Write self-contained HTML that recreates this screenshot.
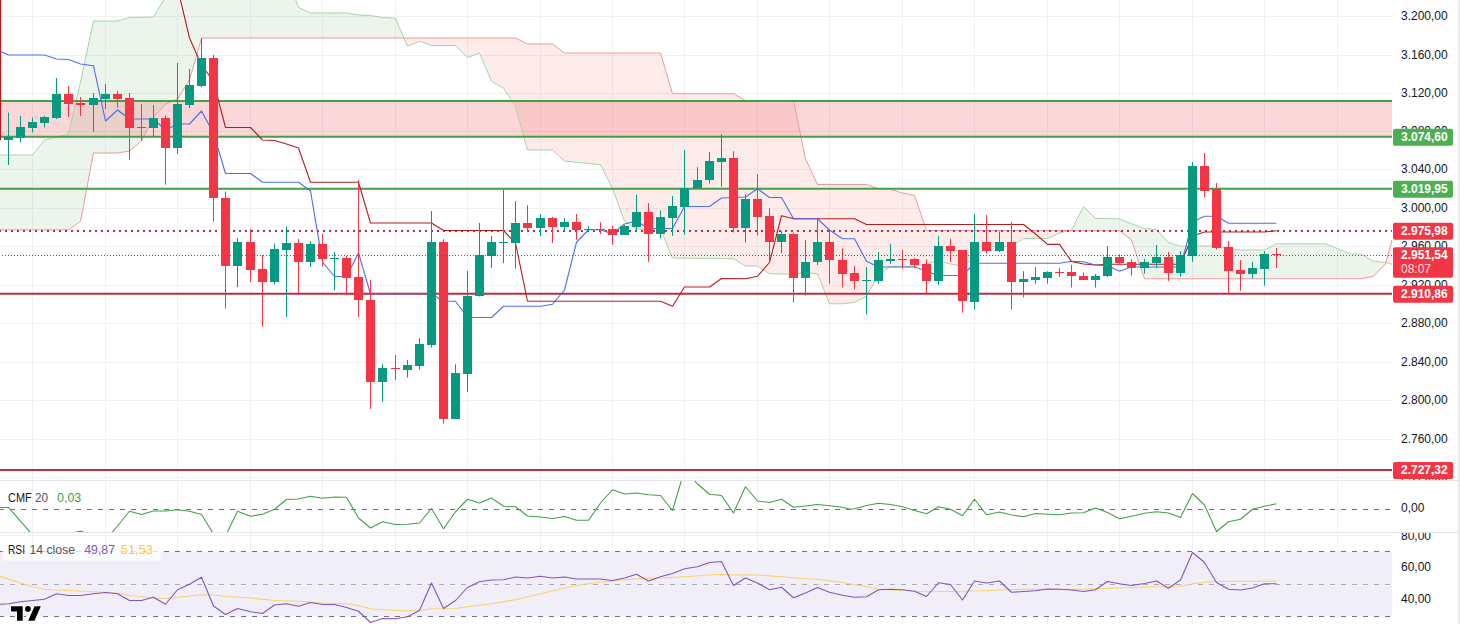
<!DOCTYPE html>
<html><head><meta charset="utf-8"><title>Chart</title>
<style>
html,body{margin:0;padding:0;background:#fff;}
body{width:1460px;height:624px;overflow:hidden;font-family:"Liberation Sans",sans-serif;}
svg{display:block;}
svg text{font-family:"Liberation Sans",sans-serif;}
</style></head><body>
<svg width="1460" height="624" viewBox="0 0 1460 624">
<defs>
<clipPath id="main"><rect x="0" y="0" width="1392" height="480"/></clipPath>
<clipPath id="cmf"><rect x="0" y="481" width="1392" height="51"/></clipPath>
<clipPath id="rsi"><rect x="0" y="533" width="1392" height="91"/></clipPath>
<clipPath id="axmain"><rect x="1392" y="0" width="68" height="480"/></clipPath>
<clipPath id="axrsi"><rect x="1392" y="533" width="68" height="91"/></clipPath>
</defs>
<rect x="0" y="0" width="1460" height="624" fill="#fff"/>
<rect x="0" y="552" width="1392" height="64.5" fill="rgba(126,87,194,0.10)"/>
<line x1="0" y1="16.5" x2="1392" y2="16.5" stroke="#f1f1f5" stroke-width="1"/>
<line x1="0" y1="55.5" x2="1392" y2="55.5" stroke="#f1f1f5" stroke-width="1"/>
<line x1="0" y1="93.5" x2="1392" y2="93.5" stroke="#f1f1f5" stroke-width="1"/>
<line x1="0" y1="131.5" x2="1392" y2="131.5" stroke="#f1f1f5" stroke-width="1"/>
<line x1="0" y1="169.5" x2="1392" y2="169.5" stroke="#f1f1f5" stroke-width="1"/>
<line x1="0" y1="208.5" x2="1392" y2="208.5" stroke="#f1f1f5" stroke-width="1"/>
<line x1="0" y1="246.5" x2="1392" y2="246.5" stroke="#f1f1f5" stroke-width="1"/>
<line x1="0" y1="285.5" x2="1392" y2="285.5" stroke="#f1f1f5" stroke-width="1"/>
<line x1="0" y1="323.5" x2="1392" y2="323.5" stroke="#f1f1f5" stroke-width="1"/>
<line x1="0" y1="362.5" x2="1392" y2="362.5" stroke="#f1f1f5" stroke-width="1"/>
<line x1="0" y1="400.5" x2="1392" y2="400.5" stroke="#f1f1f5" stroke-width="1"/>
<line x1="0" y1="439.5" x2="1392" y2="439.5" stroke="#f1f1f5" stroke-width="1"/>
<line x1="0" y1="477.5" x2="1392" y2="477.5" stroke="#f1f1f5" stroke-width="1"/>
<line x1="0" y1="535.5" x2="1392" y2="535.5" stroke="#f1f1f5" stroke-width="1"/>
<line x1="0" y1="568.5" x2="1392" y2="568.5" stroke="#f1f1f5" stroke-width="1"/>
<line x1="0" y1="600.5" x2="1392" y2="600.5" stroke="#f1f1f5" stroke-width="1"/>
<line x1="32.5" y1="0" x2="32.5" y2="624" stroke="#f1f1f5" stroke-width="1"/>
<line x1="105.5" y1="0" x2="105.5" y2="624" stroke="#f1f1f5" stroke-width="1"/>
<line x1="177.5" y1="0" x2="177.5" y2="624" stroke="#f1f1f5" stroke-width="1"/>
<line x1="250.5" y1="0" x2="250.5" y2="624" stroke="#f1f1f5" stroke-width="1"/>
<line x1="322.5" y1="0" x2="322.5" y2="624" stroke="#f1f1f5" stroke-width="1"/>
<line x1="395.5" y1="0" x2="395.5" y2="624" stroke="#f1f1f5" stroke-width="1"/>
<line x1="467.5" y1="0" x2="467.5" y2="624" stroke="#f1f1f5" stroke-width="1"/>
<line x1="540.5" y1="0" x2="540.5" y2="624" stroke="#f1f1f5" stroke-width="1"/>
<line x1="612.5" y1="0" x2="612.5" y2="624" stroke="#f1f1f5" stroke-width="1"/>
<line x1="684.5" y1="0" x2="684.5" y2="624" stroke="#f1f1f5" stroke-width="1"/>
<line x1="757.5" y1="0" x2="757.5" y2="624" stroke="#f1f1f5" stroke-width="1"/>
<line x1="829.5" y1="0" x2="829.5" y2="624" stroke="#f1f1f5" stroke-width="1"/>
<line x1="902.5" y1="0" x2="902.5" y2="624" stroke="#f1f1f5" stroke-width="1"/>
<line x1="974.5" y1="0" x2="974.5" y2="624" stroke="#f1f1f5" stroke-width="1"/>
<line x1="1047.5" y1="0" x2="1047.5" y2="624" stroke="#f1f1f5" stroke-width="1"/>
<line x1="1119.5" y1="0" x2="1119.5" y2="624" stroke="#f1f1f5" stroke-width="1"/>
<line x1="1192.5" y1="0" x2="1192.5" y2="624" stroke="#f1f1f5" stroke-width="1"/>
<line x1="1264.5" y1="0" x2="1264.5" y2="624" stroke="#f1f1f5" stroke-width="1"/>
<line x1="1337.5" y1="0" x2="1337.5" y2="624" stroke="#f1f1f5" stroke-width="1"/>
<line x1="0" y1="480.5" x2="1460" y2="480.5" stroke="#e4e5ea" stroke-width="1"/>
<line x1="0" y1="532.5" x2="1460" y2="532.5" stroke="#e4e5ea" stroke-width="1"/>
<rect x="1458" y="0" width="2" height="624" fill="#e9e9e9"/>
<g clip-path="url(#main)">
<rect x="0" y="101" width="1392" height="36" fill="rgba(242,54,69,0.20)"/>
<polygon points="-1.00,155.00 32.50,155.00 44.50,140.00 68.50,134.00 80.50,82.00 93.50,21.00 117.50,21.00 129.50,17.50 141.50,17.25 153.50,17.00 165.50,-3.00 177.50,-10.00 189.50,-10.00 201.50,-10.00 286.50,-10.00 295.00,-2.00 298.50,7.50 310.50,13.00 346.50,13.00 358.50,15.00 370.50,15.50 382.50,17.50 395.50,18.25 403.96,38.00 403.96,38.00 395.50,38.00 382.50,38.00 370.50,38.00 358.50,38.00 346.50,38.00 310.50,38.00 298.50,38.00 295.00,38.00 286.50,38.00 201.50,38.00 189.50,80.00 177.50,99.00 165.50,104.00 153.50,117.50 141.50,141.00 129.50,151.00 117.50,153.00 93.50,153.00 80.50,221.50 68.50,229.75 44.50,229.75 32.50,229.75 -1.00,229.75" fill="rgba(67,160,71,0.10)"/>
<polygon points="403.96,38.00 407.50,46.25 419.50,41.25 431.50,45.50 455.50,45.50 467.50,57.50 479.50,53.00 491.50,81.25 503.50,88.00 515.50,106.25 527.50,150.00 552.50,150.00 564.50,161.00 600.50,164.75 612.50,188.50 624.50,221.00 636.50,229.00 660.50,229.00 672.50,258.00 733.50,258.75 745.50,266.00 757.50,266.00 769.50,273.75 793.50,274.25 805.50,272.50 817.50,273.75 829.50,303.75 842.50,303.75 854.50,302.50 866.50,296.25 878.50,275.00 890.50,266.50 902.50,266.50 914.50,266.50 926.50,264.00 938.50,261.00 950.50,264.00 962.50,266.00 974.50,258.00 986.50,247.00 1011.50,246.50 1023.50,238.50 1047.50,238.50 1059.50,233.00 1068.76,230.68 1068.76,230.68 1059.50,230.67 1047.50,230.66 1023.50,230.63 1011.50,230.61 986.50,230.58 974.50,230.56 962.50,230.55 950.50,230.53 938.50,230.52 926.50,230.50 914.50,195.50 902.50,193.00 890.50,189.25 878.50,188.75 866.50,184.50 854.50,184.50 842.50,184.50 829.50,184.50 817.50,184.50 805.50,158.75 793.50,100.50 769.50,100.50 757.50,100.50 745.50,100.50 733.50,93.75 672.50,93.75 660.50,53.00 636.50,53.00 624.50,53.00 612.50,53.00 600.50,53.00 564.50,53.00 552.50,44.00 527.50,44.00 515.50,38.00 503.50,38.00 491.50,38.00 479.50,38.00 467.50,38.00 455.50,38.00 431.50,38.00 419.50,38.00 407.50,38.00 403.96,38.00" fill="rgba(244,67,54,0.10)"/>
<polygon points="1068.76,230.68 1071.50,230.00 1083.50,206.75 1095.50,218.50 1119.50,218.75 1131.50,223.75 1144.50,228.75 1156.50,229.50 1168.50,242.50 1180.50,246.25 1216.50,245.75 1228.50,248.75 1240.50,250.00 1264.50,250.00 1276.50,243.75 1325.50,243.75 1337.50,248.75 1349.50,253.75 1361.50,254.25 1373.50,261.25 1385.50,262.50 1385.82,262.59 1385.82,262.59 1385.50,263.75 1373.50,276.25 1361.50,278.75 1349.50,278.75 1337.50,278.75 1325.50,278.75 1276.50,278.75 1264.50,278.75 1240.50,278.75 1228.50,278.75 1216.50,278.75 1180.50,278.75 1168.50,278.75 1156.50,278.75 1144.50,278.75 1131.50,240.00 1119.50,230.75 1095.50,230.72 1083.50,230.70 1071.50,230.69 1068.76,230.68" fill="rgba(67,160,71,0.10)"/>
<polygon points="1385.82,262.59 1392.00,264.25 1392.00,240.00 1385.82,262.59" fill="rgba(244,67,54,0.10)"/>

<polyline points="-1.00,155.00 32.50,155.00 44.50,140.00 68.50,134.00 80.50,82.00 93.50,21.00 117.50,21.00 129.50,17.50 153.50,17.00 165.50,-3.00 177.50,-10.00 286.50,-10.00 295.00,-2.00 298.50,7.50 310.50,13.00 346.50,13.00 358.50,15.00 370.50,15.50 382.50,17.50 395.50,18.25 407.50,46.25 419.50,41.25 431.50,45.50 455.50,45.50 467.50,57.50 479.50,53.00 491.50,81.25 503.50,88.00 515.50,106.25 527.50,150.00 552.50,150.00 564.50,161.00 600.50,164.75 612.50,188.50 624.50,221.00 636.50,229.00 660.50,229.00 672.50,258.00 733.50,258.75 745.50,266.00 757.50,266.00 769.50,273.75 793.50,274.25 805.50,272.50 817.50,273.75 829.50,303.75 842.50,303.75 854.50,302.50 866.50,296.25 878.50,275.00 890.50,266.50 914.50,266.50 926.50,264.00 938.50,261.00 950.50,264.00 962.50,266.00 974.50,258.00 986.50,247.00 1011.50,246.50 1023.50,238.50 1047.50,238.50 1059.50,233.00 1071.50,230.00 1083.50,206.75 1095.50,218.50 1119.50,218.75 1131.50,223.75 1144.50,228.75 1156.50,229.50 1168.50,242.50 1180.50,246.25 1216.50,245.75 1228.50,248.75 1240.50,250.00 1264.50,250.00 1276.50,243.75 1325.50,243.75 1337.50,248.75 1349.50,253.75 1361.50,254.25 1373.50,261.25 1385.50,262.50 1392.00,264.25" fill="none" stroke="#a5d6a7" stroke-width="1"/>
<polyline points="-1.00,229.75 68.50,229.75 80.50,221.50 93.50,153.00 117.50,153.00 129.50,151.00 141.50,141.00 153.50,117.50 165.50,104.00 177.50,99.00 189.50,80.00 201.50,38.00 515.50,38.00 527.50,44.00 552.50,44.00 564.50,53.00 660.50,53.00 672.50,93.75 733.50,93.75 745.50,100.50 793.50,100.50 805.50,158.75 817.50,184.50 866.50,184.50 878.50,188.75 890.50,189.25 902.50,193.00 914.50,195.50 926.50,230.50 1119.50,230.75 1131.50,240.00 1144.50,278.75 1361.50,278.75 1373.50,276.25 1385.50,263.75 1392.00,240.00" fill="none" stroke="#ef9a9a" stroke-width="1"/>
<line x1="0" y1="101" x2="1392" y2="101" stroke="#43a047" stroke-width="2"/>
<line x1="0" y1="136.75" x2="1392" y2="136.75" stroke="#43a047" stroke-width="2"/>
<line x1="0" y1="188.75" x2="1392" y2="188.75" stroke="#43a047" stroke-width="2"/>
<line x1="0" y1="293.75" x2="1392" y2="293.75" stroke="#b82f43" stroke-width="2"/>
<line x1="0" y1="470" x2="1392" y2="470" stroke="#b82f43" stroke-width="2"/>
<line x1="-1" y1="231" x2="1392" y2="231" stroke="#b22e45" stroke-width="2" stroke-dasharray="2 4"/>
<line x1="0.5" y1="0" x2="0.5" y2="140" stroke="#b71c1c" stroke-width="1.2"/>
<polyline points="180.00,-2.00 189.50,38.00 201.50,65.00 213.50,81.50 225.50,127.50 250.50,127.50 262.50,140.00 274.50,140.50 286.50,144.00 298.50,148.00 310.50,182.25 358.50,182.25 370.50,223.00 431.50,223.00 443.50,230.50 503.50,230.50 515.50,243.00 527.50,301.25 660.50,301.25 672.50,306.25 684.50,287.00 709.50,287.00 721.50,278.50 745.50,278.75 757.50,276.25 769.50,262.50 781.50,215.75 793.50,218.75 854.50,218.75 866.50,224.50 1023.50,224.50 1035.50,234.00 1047.50,244.40 1059.50,244.40 1071.50,261.40 1083.50,264.00 1095.50,265.00 1107.50,264.25 1180.50,264.25 1192.50,236.00 1204.50,232.00 1264.50,232.00 1276.50,230.75" fill="none" stroke="#b71c1c" stroke-width="1.1" stroke-linejoin="round"/>
<polyline points="0.00,51.00 8.50,55.00 44.50,55.00 56.50,59.00 68.50,59.50 80.50,64.00 93.50,65.75 105.50,121.00 117.50,110.00 129.50,119.00 153.50,119.00 165.50,130.00 177.50,124.00 189.50,124.00 201.50,111.00 213.50,133.00 225.50,173.50 250.50,173.50 262.50,182.25 298.50,182.25 310.50,191.00 322.50,262.00 334.50,276.50 346.50,276.50 358.50,253.00 370.50,293.75 431.50,293.75 443.50,301.25 455.50,301.25 467.50,317.50 491.50,317.50 503.50,306.25 540.50,306.25 552.50,304.25 564.50,290.00 576.50,242.25 588.50,229.75 600.50,229.75 612.50,234.00 624.50,224.00 636.50,221.00 648.50,228.50 672.50,228.50 684.50,206.50 709.50,206.50 721.50,198.00 745.50,197.00 757.50,188.75 769.50,197.50 781.50,197.50 793.50,218.75 817.50,218.75 829.50,230.00 842.50,238.75 854.50,238.75 866.50,261.25 878.50,267.00 914.50,267.00 926.50,271.25 938.50,275.50 962.50,275.50 974.50,263.25 1059.50,263.25 1071.50,261.25 1083.50,261.75 1095.50,265.00 1107.50,265.75 1119.50,271.25 1131.50,267.00 1180.50,267.00 1192.50,222.00 1204.50,216.25 1216.50,216.25 1228.50,223.25 1276.50,223.25" fill="none" stroke="#3a64ee" stroke-opacity="0.9" stroke-width="1.15" stroke-linejoin="round"/>
<rect x="8.0" y="112.5" width="1" height="52.5" fill="#089981"/><rect x="4.0" y="137" width="9" height="3" fill="#089981"/>
<rect x="20.0" y="116.0" width="1" height="26.5" fill="#089981"/><rect x="16.0" y="127" width="9" height="11" fill="#089981"/>
<rect x="32.0" y="117.5" width="1" height="15.0" fill="#089981"/><rect x="28.0" y="122" width="9" height="6" fill="#089981"/>
<rect x="44.0" y="116.0" width="1" height="11.5" fill="#089981"/><rect x="40.0" y="117" width="9" height="6" fill="#089981"/>
<rect x="56.0" y="78.0" width="1" height="41.0" fill="#089981"/><rect x="52.0" y="94" width="9" height="24" fill="#089981"/>
<rect x="68.0" y="86.0" width="1" height="31.0" fill="#f23645"/><rect x="64.0" y="94" width="9" height="10" fill="#f23645"/>
<rect x="80.0" y="97.0" width="1" height="19.0" fill="#f23645"/><rect x="76.0" y="103" width="9" height="2" fill="#f23645"/>
<rect x="93.0" y="93.0" width="1" height="39.0" fill="#089981"/><rect x="89.0" y="98" width="9" height="7" fill="#089981"/>
<rect x="105.0" y="84.0" width="1" height="25.0" fill="#089981"/><rect x="101.0" y="94" width="9" height="5" fill="#089981"/>
<rect x="117.0" y="91.0" width="1" height="16.5" fill="#f23645"/><rect x="113.0" y="94" width="9" height="5" fill="#f23645"/>
<rect x="129.0" y="93.0" width="1" height="67.0" fill="#f23645"/><rect x="125.0" y="98" width="9" height="30" fill="#f23645"/>
<rect x="141.0" y="104.0" width="1" height="36.5" fill="#f23645"/><rect x="137.0" y="127" width="9" height="1" fill="#f23645"/>
<rect x="153.0" y="105.0" width="1" height="32.0" fill="#089981"/><rect x="149.0" y="118" width="9" height="10" fill="#089981"/>
<rect x="165.0" y="115.5" width="1" height="69.2" fill="#f23645"/><rect x="161.0" y="118" width="9" height="30" fill="#f23645"/>
<rect x="177.0" y="63.0" width="1" height="91.0" fill="#089981"/><rect x="173.0" y="104" width="9" height="44" fill="#089981"/>
<rect x="189.0" y="69.0" width="1" height="39.0" fill="#089981"/><rect x="185.0" y="85" width="9" height="20" fill="#089981"/>
<rect x="201.0" y="38.0" width="1" height="49.0" fill="#089981"/><rect x="197.0" y="58" width="9" height="28" fill="#089981"/>
<rect x="213.0" y="55.0" width="1" height="166.5" fill="#f23645"/><rect x="209.0" y="58" width="9" height="140" fill="#f23645"/>
<rect x="225.0" y="191.5" width="1" height="117.0" fill="#f23645"/><rect x="221.0" y="198" width="9" height="68" fill="#f23645"/>
<rect x="237.0" y="238.0" width="1" height="49.0" fill="#089981"/><rect x="233.0" y="242" width="9" height="24" fill="#089981"/>
<rect x="250.0" y="229.0" width="1" height="53.0" fill="#f23645"/><rect x="246.0" y="242" width="9" height="28" fill="#f23645"/>
<rect x="262.0" y="255.0" width="1" height="71.5" fill="#f23645"/><rect x="258.0" y="269" width="9" height="13" fill="#f23645"/>
<rect x="274.0" y="243.5" width="1" height="41.2" fill="#089981"/><rect x="270.0" y="249" width="9" height="33" fill="#089981"/>
<rect x="286.0" y="226.5" width="1" height="90.5" fill="#089981"/><rect x="282.0" y="243" width="9" height="7" fill="#089981"/>
<rect x="298.0" y="239.0" width="1" height="54.0" fill="#f23645"/><rect x="294.0" y="243" width="9" height="19" fill="#f23645"/>
<rect x="310.0" y="241.0" width="1" height="26.0" fill="#089981"/><rect x="306.0" y="244" width="9" height="18" fill="#089981"/>
<rect x="322.0" y="233.5" width="1" height="33.0" fill="#f23645"/><rect x="318.0" y="244" width="9" height="15" fill="#f23645"/>
<rect x="334.0" y="252.0" width="1" height="38.5" fill="#089981"/><rect x="330.0" y="258" width="9" height="1" fill="#089981"/>
<rect x="346.0" y="256.0" width="1" height="39.0" fill="#f23645"/><rect x="342.0" y="258" width="9" height="20" fill="#f23645"/>
<rect x="358.0" y="180.0" width="1" height="137.0" fill="#f23645"/><rect x="354.0" y="277" width="9" height="23" fill="#f23645"/>
<rect x="370.0" y="279.8" width="1" height="129.0" fill="#f23645"/><rect x="366.0" y="300" width="9" height="82" fill="#f23645"/>
<rect x="382.0" y="364.2" width="1" height="37.5" fill="#089981"/><rect x="378.0" y="368" width="9" height="14" fill="#089981"/>
<rect x="395.0" y="355.0" width="1" height="25.0" fill="#f23645"/><rect x="391.0" y="368" width="9" height="1" fill="#f23645"/>
<rect x="407.0" y="360.0" width="1" height="17.5" fill="#089981"/><rect x="403.0" y="365" width="9" height="5" fill="#089981"/>
<rect x="419.0" y="338.0" width="1" height="31.5" fill="#089981"/><rect x="415.0" y="344" width="9" height="22" fill="#089981"/>
<rect x="431.0" y="211.0" width="1" height="136.5" fill="#089981"/><rect x="427.0" y="242" width="9" height="103" fill="#089981"/>
<rect x="443.0" y="239.2" width="1" height="184.5" fill="#f23645"/><rect x="439.0" y="242" width="9" height="177" fill="#f23645"/>
<rect x="455.0" y="364.2" width="1" height="55.2" fill="#089981"/><rect x="451.0" y="373" width="9" height="46" fill="#089981"/>
<rect x="467.0" y="271.0" width="1" height="120.8" fill="#089981"/><rect x="463.0" y="296" width="9" height="78" fill="#089981"/>
<rect x="479.0" y="223.0" width="1" height="73.5" fill="#089981"/><rect x="475.0" y="255" width="9" height="41" fill="#089981"/>
<rect x="491.0" y="236.0" width="1" height="31.8" fill="#089981"/><rect x="487.0" y="242" width="9" height="14" fill="#089981"/>
<rect x="503.0" y="189.8" width="1" height="73.2" fill="#089981"/><rect x="499.0" y="242" width="9" height="1" fill="#089981"/>
<rect x="515.0" y="201.0" width="1" height="67.5" fill="#089981"/><rect x="511.0" y="223" width="9" height="20" fill="#089981"/>
<rect x="527.0" y="205.2" width="1" height="27.0" fill="#f23645"/><rect x="523.0" y="223" width="9" height="5" fill="#f23645"/>
<rect x="540.0" y="214.0" width="1" height="22.0" fill="#089981"/><rect x="536.0" y="218" width="9" height="10" fill="#089981"/>
<rect x="552.0" y="216.8" width="1" height="26.2" fill="#f23645"/><rect x="548.0" y="218" width="9" height="9" fill="#f23645"/>
<rect x="564.0" y="218.0" width="1" height="13.0" fill="#089981"/><rect x="560.0" y="222" width="9" height="5" fill="#089981"/>
<rect x="576.0" y="214.0" width="1" height="25.8" fill="#f23645"/><rect x="572.0" y="222" width="9" height="8" fill="#f23645"/>
<rect x="588.0" y="226.2" width="1" height="6.0" fill="#089981"/><rect x="584.0" y="229" width="9" height="1" fill="#089981"/>
<rect x="600.0" y="222.2" width="1" height="11.8" fill="#f23645"/><rect x="596.0" y="229" width="9" height="1" fill="#f23645"/>
<rect x="612.0" y="226.0" width="1" height="18.8" fill="#f23645"/><rect x="608.0" y="229" width="9" height="6" fill="#f23645"/>
<rect x="624.0" y="225.0" width="1" height="9.8" fill="#089981"/><rect x="620.0" y="226" width="9" height="9" fill="#089981"/>
<rect x="636.0" y="194.8" width="1" height="35.8" fill="#089981"/><rect x="632.0" y="212" width="9" height="15" fill="#089981"/>
<rect x="648.0" y="203.0" width="1" height="58.8" fill="#f23645"/><rect x="644.0" y="212" width="9" height="22" fill="#f23645"/>
<rect x="660.0" y="210.5" width="1" height="28.0" fill="#089981"/><rect x="656.0" y="217" width="9" height="17" fill="#089981"/>
<rect x="672.0" y="196.0" width="1" height="40.0" fill="#089981"/><rect x="668.0" y="206" width="9" height="12" fill="#089981"/>
<rect x="684.0" y="150.0" width="1" height="84.8" fill="#089981"/><rect x="680.0" y="188" width="9" height="19" fill="#089981"/>
<rect x="697.0" y="167.2" width="1" height="21.2" fill="#089981"/><rect x="693.0" y="180" width="9" height="8" fill="#089981"/>
<rect x="709.0" y="152.0" width="1" height="31.5" fill="#089981"/><rect x="705.0" y="161" width="9" height="19" fill="#089981"/>
<rect x="721.0" y="134.2" width="1" height="52.5" fill="#089981"/><rect x="717.0" y="158" width="9" height="4" fill="#089981"/>
<rect x="733.0" y="151.2" width="1" height="81.2" fill="#f23645"/><rect x="729.0" y="158" width="9" height="70" fill="#f23645"/>
<rect x="745.0" y="194.5" width="1" height="48.0" fill="#089981"/><rect x="741.0" y="199" width="9" height="29" fill="#089981"/>
<rect x="757.0" y="174.2" width="1" height="61.2" fill="#f23645"/><rect x="753.0" y="199" width="9" height="18" fill="#f23645"/>
<rect x="769.0" y="208.2" width="1" height="54.8" fill="#f23645"/><rect x="765.0" y="216" width="9" height="26" fill="#f23645"/>
<rect x="781.0" y="231.2" width="1" height="22.0" fill="#089981"/><rect x="777.0" y="234" width="9" height="8" fill="#089981"/>
<rect x="793.0" y="232.5" width="1" height="70.0" fill="#f23645"/><rect x="789.0" y="234" width="9" height="44" fill="#f23645"/>
<rect x="805.0" y="240.0" width="1" height="55.5" fill="#089981"/><rect x="801.0" y="262" width="9" height="16" fill="#089981"/>
<rect x="817.0" y="219.2" width="1" height="45.8" fill="#089981"/><rect x="813.0" y="242" width="9" height="20" fill="#089981"/>
<rect x="829.0" y="229.5" width="1" height="54.2" fill="#f23645"/><rect x="825.0" y="242" width="9" height="18" fill="#f23645"/>
<rect x="842.0" y="248.2" width="1" height="39.2" fill="#f23645"/><rect x="838.0" y="260" width="9" height="14" fill="#f23645"/>
<rect x="854.0" y="266.2" width="1" height="23.2" fill="#f23645"/><rect x="850.0" y="273" width="9" height="8" fill="#f23645"/>
<rect x="866.0" y="267.0" width="1" height="47.5" fill="#089981"/><rect x="862.0" y="280" width="9" height="1" fill="#089981"/>
<rect x="878.0" y="252.0" width="1" height="31.8" fill="#089981"/><rect x="874.0" y="260" width="9" height="21" fill="#089981"/>
<rect x="890.0" y="243.8" width="1" height="20.0" fill="#089981"/><rect x="886.0" y="259" width="9" height="2" fill="#089981"/>
<rect x="902.0" y="250.0" width="1" height="18.8" fill="#f23645"/><rect x="898.0" y="259" width="9" height="1" fill="#f23645"/>
<rect x="914.0" y="258.0" width="1" height="9.5" fill="#f23645"/><rect x="910.0" y="259" width="9" height="6" fill="#f23645"/>
<rect x="926.0" y="259.5" width="1" height="33.5" fill="#f23645"/><rect x="922.0" y="264" width="9" height="17" fill="#f23645"/>
<rect x="938.0" y="236.2" width="1" height="48.8" fill="#089981"/><rect x="934.0" y="246" width="9" height="35" fill="#089981"/>
<rect x="950.0" y="238.8" width="1" height="23.2" fill="#f23645"/><rect x="946.0" y="246" width="9" height="5" fill="#f23645"/>
<rect x="962.0" y="250.0" width="1" height="62.5" fill="#f23645"/><rect x="958.0" y="250" width="9" height="51" fill="#f23645"/>
<rect x="974.0" y="214.2" width="1" height="95.2" fill="#089981"/><rect x="970.0" y="242" width="9" height="60" fill="#089981"/>
<rect x="986.0" y="215.0" width="1" height="38.8" fill="#f23645"/><rect x="982.0" y="242" width="9" height="9" fill="#f23645"/>
<rect x="999.0" y="231.2" width="1" height="20.8" fill="#089981"/><rect x="995.0" y="242" width="9" height="9" fill="#089981"/>
<rect x="1011.0" y="222.0" width="1" height="87.5" fill="#f23645"/><rect x="1007.0" y="242" width="9" height="40" fill="#f23645"/>
<rect x="1023.0" y="271.2" width="1" height="26.2" fill="#089981"/><rect x="1019.0" y="279" width="9" height="3" fill="#089981"/>
<rect x="1035.0" y="267.0" width="1" height="16.8" fill="#089981"/><rect x="1031.0" y="277" width="9" height="3" fill="#089981"/>
<rect x="1047.0" y="271.2" width="1" height="12.5" fill="#089981"/><rect x="1043.0" y="272" width="9" height="6" fill="#089981"/>
<rect x="1059.0" y="268.2" width="1" height="8.8" fill="#f23645"/><rect x="1055.0" y="272" width="9" height="1" fill="#f23645"/>
<rect x="1071.0" y="265.0" width="1" height="22.5" fill="#f23645"/><rect x="1067.0" y="272" width="9" height="4" fill="#f23645"/>
<rect x="1083.0" y="272.5" width="1" height="7.5" fill="#f23645"/><rect x="1079.0" y="276" width="9" height="4" fill="#f23645"/>
<rect x="1095.0" y="274.0" width="1" height="13.5" fill="#089981"/><rect x="1091.0" y="276" width="9" height="4" fill="#089981"/>
<rect x="1107.0" y="246.2" width="1" height="30.8" fill="#089981"/><rect x="1103.0" y="257" width="9" height="19" fill="#089981"/>
<rect x="1119.0" y="254.2" width="1" height="9.5" fill="#f23645"/><rect x="1115.0" y="257" width="9" height="6" fill="#f23645"/>
<rect x="1131.0" y="259.2" width="1" height="16.5" fill="#f23645"/><rect x="1127.0" y="262" width="9" height="6" fill="#f23645"/>
<rect x="1144.0" y="259.2" width="1" height="14.5" fill="#089981"/><rect x="1140.0" y="262" width="9" height="6" fill="#089981"/>
<rect x="1156.0" y="245.0" width="1" height="22.5" fill="#089981"/><rect x="1152.0" y="257" width="9" height="6" fill="#089981"/>
<rect x="1168.0" y="252.0" width="1" height="28.8" fill="#f23645"/><rect x="1164.0" y="257" width="9" height="16" fill="#f23645"/>
<rect x="1180.0" y="251.2" width="1" height="25.5" fill="#089981"/><rect x="1176.0" y="255" width="9" height="18" fill="#089981"/>
<rect x="1192.0" y="162.0" width="1" height="99.8" fill="#089981"/><rect x="1188.0" y="166" width="9" height="90" fill="#089981"/>
<rect x="1204.0" y="153.0" width="1" height="44.5" fill="#f23645"/><rect x="1200.0" y="166" width="9" height="25" fill="#f23645"/>
<rect x="1216.0" y="183.0" width="1" height="66.5" fill="#f23645"/><rect x="1212.0" y="189" width="9" height="59" fill="#f23645"/>
<rect x="1228.0" y="241.2" width="1" height="52.0" fill="#f23645"/><rect x="1224.0" y="247" width="9" height="24" fill="#f23645"/>
<rect x="1240.0" y="260.0" width="1" height="30.8" fill="#f23645"/><rect x="1236.0" y="270" width="9" height="4" fill="#f23645"/>
<rect x="1252.0" y="262.0" width="1" height="16.8" fill="#089981"/><rect x="1248.0" y="268" width="9" height="6" fill="#089981"/>
<rect x="1264.0" y="251.2" width="1" height="34.5" fill="#089981"/><rect x="1260.0" y="254" width="9" height="15" fill="#089981"/>
<rect x="1276.0" y="248.0" width="1" height="20.0" fill="#f23645"/><rect x="1272.0" y="254" width="9" height="1" fill="#f23645"/>
<line x1="2" y1="255.5" x2="1392" y2="255.5" stroke="#c0303f" stroke-width="1" stroke-dasharray="1 2"/>
</g>
<g clip-path="url(#cmf)">
<line x1="-1" y1="509.5" x2="1392" y2="509.5" stroke="#70737e" stroke-width="1" stroke-dasharray="5 6"/>
<polyline points="0.00,507.50 8.50,507.50 20.50,521.20 32.50,535.00 44.50,545.00 56.50,536.00 68.50,534.00 80.50,531.00 93.50,536.00 105.50,540.00 117.50,526.00 129.50,511.25 141.50,514.50 153.50,511.00 165.50,511.00 177.50,509.75 189.50,511.25 201.50,514.50 213.50,534.00 225.50,536.00 237.50,511.25 250.50,516.25 262.50,514.25 274.50,509.25 286.50,499.50 298.50,499.00 310.50,496.25 322.50,498.25 334.50,497.00 346.50,497.25 358.50,518.00 370.50,528.00 382.50,521.75 395.50,524.50 407.50,524.25 419.50,523.00 431.50,508.50 443.50,528.75 455.50,511.75 467.50,499.25 479.50,503.00 491.50,498.00 503.50,506.25 515.50,506.75 527.50,516.00 540.50,517.00 552.50,518.50 564.50,516.50 576.50,520.25 588.50,520.25 600.50,503.00 612.50,489.75 624.50,494.00 636.50,493.00 648.50,494.75 660.50,495.50 672.50,510.50 684.50,470.00 697.50,484.00 709.50,494.25 721.50,495.50 733.50,513.00 745.50,486.75 757.50,501.00 769.50,502.50 781.50,499.25 793.50,507.25 805.50,506.00 817.50,504.50 829.50,505.75 842.50,507.25 850.00,509.25 854.50,508.75 866.50,505.50 878.50,503.25 890.50,504.50 902.50,506.75 914.50,510.50 926.50,513.75 938.50,506.75 950.50,509.25 962.50,515.75 974.50,499.25 986.50,514.75 999.50,512.00 1011.50,515.00 1023.50,516.75 1035.50,513.50 1047.50,514.25 1059.50,514.75 1071.50,513.00 1083.50,512.75 1095.50,508.00 1107.50,512.50 1119.50,518.75 1131.50,516.25 1144.50,513.25 1156.50,511.75 1168.50,513.00 1180.50,517.50 1192.50,493.50 1204.50,505.00 1216.50,531.50 1228.50,521.75 1240.50,519.25 1252.50,509.25 1264.50,506.25 1276.50,503.75" fill="none" stroke="#43a047" stroke-width="1.1" stroke-linejoin="round"/>
</g>
<g clip-path="url(#rsi)">
<line x1="-1" y1="551.5" x2="1392" y2="551.5" stroke="#70737e" stroke-width="1" stroke-dasharray="5 6"/>
<line x1="-1" y1="584.5" x2="1392" y2="584.5" stroke="#a9abb3" stroke-width="1" stroke-dasharray="5 6"/>
<line x1="-1" y1="616.5" x2="1392" y2="616.5" stroke="#70737e" stroke-width="1" stroke-dasharray="5 6"/>
<polyline points="0.00,576.25 20.50,583.00 32.50,586.75 44.50,589.25 68.50,590.50 93.50,591.75 117.50,593.00 129.50,595.50 141.50,596.75 153.50,598.00 165.50,598.50 177.50,597.25 189.50,596.00 201.50,594.75 213.50,595.00 225.50,596.50 250.50,598.00 274.50,600.50 298.50,601.25 322.50,603.00 346.50,603.75 358.50,605.50 370.50,608.75 382.50,609.75 407.50,611.00 419.50,610.50 431.50,608.75 455.50,608.50 467.50,606.75 491.50,603.75 515.50,599.75 540.50,593.75 564.50,588.00 588.50,583.50 612.50,581.00 636.50,578.75 660.50,578.00 684.50,576.75 709.50,575.00 721.50,574.25 733.50,575.00 745.50,574.75 757.50,575.00 781.50,576.75 805.50,578.75 817.50,579.25 842.50,582.50 866.50,586.75 878.50,589.25 902.50,590.50 926.50,591.75 950.50,591.50 974.50,591.00 999.50,590.00 1023.50,589.25 1071.50,589.25 1095.50,588.75 1119.50,588.00 1144.50,587.00 1180.50,586.50 1192.50,583.75 1204.50,582.25 1216.50,581.50 1240.50,581.25 1276.50,581.00" fill="none" stroke="#f7d36e" stroke-width="1.25" stroke-linejoin="round"/>
<polyline points="0.00,604.25 8.50,603.75 20.50,601.75 32.50,600.50 44.50,599.25 56.50,593.75 68.50,595.50 80.50,595.50 93.50,593.75 105.50,592.50 117.50,593.75 129.50,600.50 141.50,600.50 153.50,597.25 165.50,604.25 177.50,589.75 189.50,584.25 201.50,577.25 213.50,606.00 225.50,614.50 237.50,608.50 250.50,611.75 262.50,613.50 274.50,605.00 286.50,603.75 298.50,606.25 310.50,602.50 322.50,604.50 334.50,604.50 346.50,607.50 358.50,611.25 370.50,622.50 382.50,618.50 395.50,618.75 407.50,616.75 419.50,610.50 431.50,583.00 443.50,608.50 455.50,600.50 467.50,587.50 479.50,581.75 491.50,580.00 503.50,579.75 515.50,577.00 527.50,578.00 540.50,576.25 552.50,578.00 564.50,577.00 576.50,579.00 600.50,579.00 612.50,580.50 624.50,578.00 636.50,574.25 648.50,581.00 660.50,576.75 672.50,573.50 684.50,568.75 697.50,566.75 709.50,562.50 721.50,561.50 733.50,585.50 745.50,578.00 757.50,583.00 769.50,589.75 781.50,587.25 793.50,597.75 805.50,593.00 817.50,587.50 829.50,592.25 842.50,595.25 854.50,597.25 866.50,596.75 878.50,589.75 890.50,589.25 902.50,589.75 914.50,591.25 926.50,596.50 938.50,582.75 950.50,584.50 962.50,600.00 974.50,581.00 986.50,583.00 999.50,581.00 1011.50,592.25 1023.50,591.50 1035.50,590.75 1047.50,589.00 1059.50,589.25 1071.50,590.00 1083.50,591.50 1095.50,589.75 1107.50,581.50 1119.50,583.75 1131.50,585.50 1144.50,583.50 1156.50,581.00 1168.50,588.25 1180.50,580.00 1192.50,552.50 1204.50,562.50 1216.50,582.50 1228.50,589.25 1240.50,590.00 1252.50,588.00 1264.50,583.75 1276.50,583.75" fill="none" stroke="#7e57c2" stroke-width="1.1" stroke-linejoin="round"/>
</g>
<g clip-path="url(#axmain)">
<text x="1401" y="19.8" fill="#131722" font-size="12" font-weight="normal" text-anchor="start" >3.200,00</text>
<text x="1401" y="58.8" fill="#131722" font-size="12" font-weight="normal" text-anchor="start" >3.160,00</text>
<text x="1401" y="96.8" fill="#131722" font-size="12" font-weight="normal" text-anchor="start" >3.120,00</text>
<text x="1401" y="134.8" fill="#131722" font-size="12" font-weight="normal" text-anchor="start" >3.080,00</text>
<text x="1401" y="172.8" fill="#131722" font-size="12" font-weight="normal" text-anchor="start" >3.040,00</text>
<text x="1401" y="211.8" fill="#131722" font-size="12" font-weight="normal" text-anchor="start" >3.000,00</text>
<text x="1401" y="249.8" fill="#131722" font-size="12" font-weight="normal" text-anchor="start" >2.960,00</text>
<text x="1401" y="288.8" fill="#131722" font-size="12" font-weight="normal" text-anchor="start" >2.920,00</text>
<text x="1401" y="326.8" fill="#131722" font-size="12" font-weight="normal" text-anchor="start" >2.880,00</text>
<text x="1401" y="365.8" fill="#131722" font-size="12" font-weight="normal" text-anchor="start" >2.840,00</text>
<text x="1401" y="403.8" fill="#131722" font-size="12" font-weight="normal" text-anchor="start" >2.800,00</text>
<text x="1401" y="442.8" fill="#131722" font-size="12" font-weight="normal" text-anchor="start" >2.760,00</text>
<text x="1401" y="480.8" fill="#131722" font-size="12" font-weight="normal" text-anchor="start" >2.720,00</text>
</g>
<text x="1401" y="511.8" fill="#131722" font-size="12" font-weight="normal" text-anchor="start" >0,00</text>
<g clip-path="url(#axrsi)">
<text x="1401" y="540" fill="#131722" font-size="12" font-weight="normal" text-anchor="start" >80,00</text>
<text x="1401" y="571" fill="#131722" font-size="12" font-weight="normal" text-anchor="start" >60,00</text>
<text x="1401" y="603" fill="#131722" font-size="12" font-weight="normal" text-anchor="start" >40,00</text>
</g>
<rect x="1393" y="128.8" width="60" height="17" rx="2" ry="2" fill="#4caf50"/><text x="1401" y="140.9" fill="#fff" font-size="12" font-weight="bold" text-anchor="start" >3.074,60</text>
<rect x="1393" y="180.8" width="60" height="17" rx="2" ry="2" fill="#4caf50"/><text x="1401" y="192.9" fill="#fff" font-size="12" font-weight="bold" text-anchor="start" >3.019,95</text>
<rect x="1393" y="222.8" width="60" height="17" rx="2" ry="2" fill="#f23645"/><text x="1401" y="234.9" fill="#fff" font-size="12" font-weight="bold" text-anchor="start" >2.975,98</text>
<rect x="1393" y="247.3" width="60" height="30.5" rx="2" ry="2" fill="#f23645"/><text x="1401" y="259.40000000000003" fill="#fff" font-size="12" font-weight="bold" text-anchor="start" >2.951,54</text><text x="1401" y="273.40000000000003" fill="rgba(255,255,255,0.85)" font-size="12" font-weight="normal" text-anchor="start" >08:07</text>
<rect x="1393" y="285.8" width="60" height="17" rx="2" ry="2" fill="#f23645"/><text x="1401" y="297.90000000000003" fill="#fff" font-size="12" font-weight="bold" text-anchor="start" >2.910,86</text>
<rect x="1393" y="462.0" width="60" height="17" rx="2" ry="2" fill="#f23645"/><text x="1401" y="474.1" fill="#fff" font-size="12" font-weight="bold" text-anchor="start" >2.727,32</text>
<text x="8" y="501.75" font-size="13" fill="#131722" textLength="23.75" lengthAdjust="spacingAndGlyphs">CMF</text>
<text x="35" y="501.75" font-size="13" fill="#50535e" textLength="13" lengthAdjust="spacingAndGlyphs">20</text>
<text x="57" y="501.75" font-size="13" fill="#43a047" textLength="24.25" lengthAdjust="spacingAndGlyphs">0,03</text>
<rect x="2.5" y="544" width="158" height="16.5" fill="rgba(255,255,255,0.75)"/>
<text x="8" y="554.25" font-size="13" fill="#131722" textLength="17" lengthAdjust="spacingAndGlyphs">RSI</text>
<text x="29.5" y="554.25" font-size="13" fill="#50535e" textLength="45.5" lengthAdjust="spacingAndGlyphs">14 close</text>
<text x="84.25" y="554.25" font-size="13" fill="#7e57c2" textLength="30.75" lengthAdjust="spacingAndGlyphs">49,87</text>
<text x="120.75" y="554.25" font-size="13" fill="#f5c93b" textLength="32.25" lengthAdjust="spacingAndGlyphs">51,53</text>
<g stroke="#fff" stroke-width="2.2" stroke-linejoin="round" fill="#000"><path d="M11 606.2H22.7V620.7H17V611.6H11Z"/><circle cx="27.9" cy="608.9" r="2.85"/><path d="M34.5 606.2H40.8L34.5 620.7H28.2Z"/></g>
<g fill="#000"><path d="M11 606.2H22.7V620.7H17V611.6H11Z"/><circle cx="27.9" cy="608.9" r="2.85"/><path d="M34.5 606.2H40.8L34.5 620.7H28.2Z"/></g>
</svg>
</body></html>
